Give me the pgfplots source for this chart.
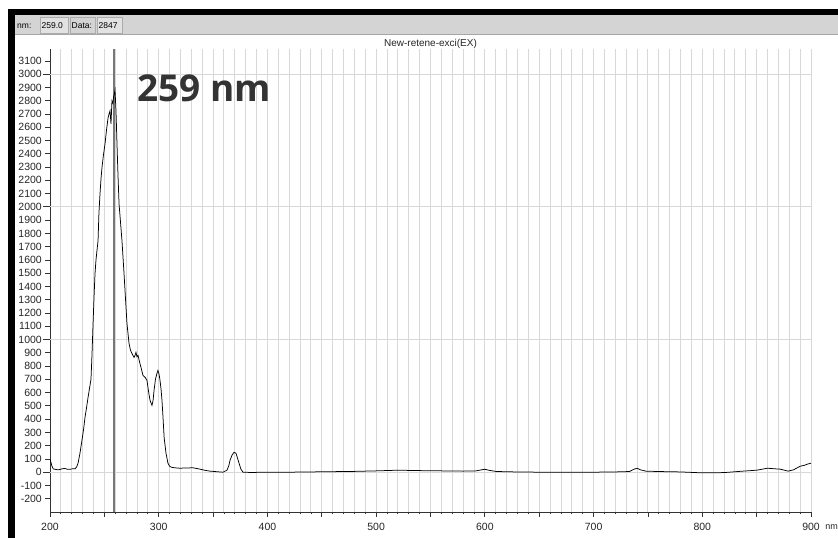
\documentclass[border=0pt]{standalone}
\usepackage{fontspec}
\setmainfont{Liberation Sans}
\newfontfamily\opensans{Open Sans}
\usepackage{pgfplots}
\pgfplotsset{compat=1.18}
\definecolor{tb}{HTML}{D4D4D4}
\definecolor{tbbox}{HTML}{E2E2E2}
\definecolor{gridc}{HTML}{D8D8D8}
\definecolor{cursor}{HTML}{777777}
\definecolor{bigtxt}{HTML}{333333}
\begin{document}
\begin{tikzpicture}[x=1bp,y=1bp]
\useasboundingbox (0,0) rectangle (838,538);
\fill[white] (0,0) rectangle (838,538);
% window frame
\fill[black] (8,0) rectangle (15,529);
\fill[black] (8,523) rectangle (838,529);
\fill[tb] (15,503) rectangle (838,523);
\draw[gray!70, line width=1bp] (15,503.5) -- (838,503.5);
\fill[tbbox] (40,505) rectangle (68,521);
\fill[tbbox] (97,505) rectangle (122,521);
\draw[gray!65, line width=0.6bp] (40,505) rectangle (68,521);
\draw[gray!65, line width=0.6bp] (70,505) rectangle (95,521);
\draw[gray!65, line width=0.6bp] (97,505) rectangle (122,521);
\begin{scope}[font=\fontsize{8.5bp}{10bp}\selectfont]
\node[anchor=base west, inner sep=0pt] at (17,509.5) {nm:};
\node[anchor=base west, inner sep=0pt] at (41.5,509.5) {259.0};
\node[anchor=base west, inner sep=0pt] at (71.5,509.5) {Data:};
\node[anchor=base west, inner sep=0pt] at (98.5,509.5) {2847};
\end{scope}
\begin{axis}[
  at={(50bp,26bp)}, anchor=south west,
  scale only axis, width=761bp, height=463bp,
  xmin=200, xmax=900, ymin=-300, ymax=3190,
  axis x line*=bottom, axis y line*=left,
  axis line style={black!80, line width=0.8bp},
  tick align=outside,
  tick style={black!80, line width=0.8bp},
  xtick={200,300,...,900},
  minor x tick num=9,
  major tick length=5bp, minor tick length=2.5bp,
  xmajorgrids=true, xminorgrids=true,
  ymajorgrids=false,
  major grid style={gridc, line width=0.9bp},
  minor grid style={gridc, line width=0.9bp},
  extra x ticks={250,350,450,550,650,750,850},
  extra x tick labels={},
  extra x tick style={xmajorgrids=false, major tick length=5bp},
  ytick={-200,-100,...,3100},
  extra y ticks={0,1000,2000,3000},
  extra y tick labels={},
  extra y tick style={ymajorgrids=true, major tick length=7bp, major grid style={gridc, line width=0.9bp}},
  /pgf/number format/assume math mode=true,
  /pgf/number format/1000 sep={},
  scaled ticks=false,
  ticklabel style={font=\fontsize{10.5bp}{12bp}\selectfont, black!85},
  yticklabel style={inner sep=0pt, xshift=-3bp},
  xticklabel style={inner sep=0pt, yshift=-6bp},
  clip=true,
]
\addplot[cursor, line width=2.6bp] coordinates {(259,-300) (259,3190)};
\addplot[black, line width=0.75bp] coordinates {
(200,98) (201,70) (201.8,45) (203,25) (204.6,22) (207,18) (209.2,20) (211,26) (213.8,28)
(216,22) (218.4,22) (221,26) (223,25) (224.5,40) (225.8,68) (227.5,140) (229.4,240)
(231,330) (232.2,414) (233.5,480) (235,564) (236.5,640) (237.7,700) (238.6,880)
(239.6,1121) (240.5,1320) (241.4,1497) (242.3,1600) (243.2,1670) (244.2,1745)
(245,1950) (246,2099) (247,2220) (247.8,2295) (249,2380) (250.6,2475) (252,2580)
(253.4,2671) (254.3,2700) (255.2,2724) (256.1,2626) (257,2799) (257.9,2780)
(258.5,2830) (259,2847) (259.8,2880) (260.7,2724) (261.6,2480) (262.5,2250)
(263.5,2024) (265,1870) (266.2,1745) (268.1,1497) (269.5,1300) (270.8,1121)
(272.7,971) (274,920) (275.4,895) (277.3,865) (278.2,880) (279.1,903) (280,870)
(281,880) (282.4,830) (283.7,790) (285.5,730) (287.5,715) (289.2,692) (290.1,640)
(291,590) (292,542) (293.8,504) (294.8,540) (295.7,617) (297,700) (298.4,745)
(299.3,767) (300.3,740) (301.2,692) (302.2,620) (303,542) (303.9,420) (305,260)
(306.7,143) (308.5,68) (310,45) (312.2,36) (316,32) (319.6,30) (325,32) (331.5,33)
(335,28) (338,23) (342,15) (347.2,8) (353,4) (359.1,0) (362.8,15) (364.5,50)
(365.6,90) (367.5,130) (369.3,150) (371.1,143) (372.5,105) (373.9,68) (375.5,25)
(377.5,0) (385,-2) (400,0) (420,0) (450,3) (480,6) (500,10) (520,15) (540,12)
(560,10) (580,8) (592,10) (597,18) (600,22) (604,14) (610,6) (620,3) (650,0)
(680,0) (700,0) (720,2) (733,5) (737,22) (740,30) (743,18) (748,8) (760,5)
(780,2) (800,-5) (820,-3) (837.5,8) (850,15) (860,30) (866,26) (871.5,23)
(879,8) (884,18) (890,45) (894,52) (896.4,60) (900,68)
};
\end{axis}
\node[font=\fontsize{10bp}{12bp}\selectfont, black!85] at (430.5,494) {New-retene-exci(EX)};
\node[font=\fontsize{9bp}{11bp}\selectfont, black!85, anchor=east, inner sep=0pt] at (838,11) {nm};
\node[font=\opensans\bfseries\fontsize{37bp}{40bp}\selectfont, text=bigtxt, anchor=base west, inner sep=0pt] at (137,436) {259 nm};
\end{tikzpicture}
\end{document}
